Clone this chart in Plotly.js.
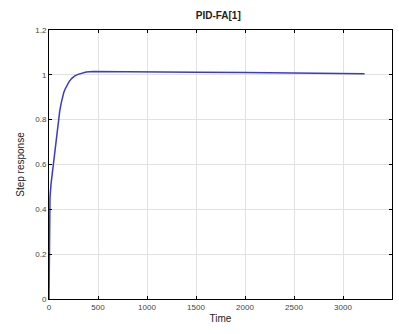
<!DOCTYPE html>
<html><head><meta charset="utf-8">
<script src="https://cdn.plot.ly/plotly-3.0.1.min.js"></script>
<style>html,body{margin:0;padding:0;background:#fff;}#chart{width:399px;height:334px;}</style>
</head><body><div id="chart"></div>
<script>
var timeValues = [0, 1, 2, 3, 5, 10, 20, 35, 48, 60, 70, 80, 92, 110, 125, 137, 150, 165, 180, 205, 230, 260, 296, 340, 380, 450, 500, 700, 1000, 1500, 2000, 2500, 3000, 3220];
var stepResponse = [0, 0.12, 0.22, 0.32, 0.4, 0.45, 0.51, 0.565, 0.61, 0.66, 0.7, 0.745, 0.79, 0.84, 0.875, 0.9, 0.92, 0.937, 0.952, 0.97, 0.983, 0.994, 1.002, 1.009, 1.013, 1.015, 1.015, 1.015, 1.014, 1.012, 1.01, 1.008, 1.006, 1.005];
var xTicks = [0, 500, 1000, 1500, 2000, 2500, 3000, 3500];
var yTicks = [0, 0.2, 0.4, 0.6, 0.8, 1, 1.2];
var yTickText = ['0', '0.2', '0.4', '0.6', '0.8', '1', '1.2'];

var axisCommon = {
  showline: true, linecolor: '#000', linewidth: 1, mirror: 'ticks',
  ticks: 'inside', ticklen: 3, tickcolor: '#000',
  showgrid: true, gridcolor: '#e2e2e2', gridwidth: 1,
  zeroline: false,
  tickfont: {family: 'Liberation Sans, Arial, sans-serif', size: 8, color: '#444'}
};

var trace = {
  x: timeValues, y: stepResponse, type: 'scatter', mode: 'lines',
  line: {color: '#3a3ad0', width: 1.5}
};

var layout = {
  width: 399, height: 334,
  margin: {l: 49, r: 7, t: 30, b: 35},
  paper_bgcolor: '#fff', plot_bgcolor: '#fff',
  showlegend: false,
  title: {text: '<b>PID-FA[1]</b>', x: 0.547, xanchor: 'center', y: 0.955, yanchor: 'middle',
          font: {family: 'Liberation Sans, Arial, sans-serif', size: 10, color: '#222'}},
  xaxis: Object.assign({}, axisCommon, {
    range: [0, 3500], tickvals: xTicks,
    title: {text: 'Time', standoff: 4, font: {family: 'Liberation Sans, Arial, sans-serif', size: 10, color: '#222'}}
  }),
  yaxis: Object.assign({}, axisCommon, {
    range: [0, 1.2], tickvals: yTicks, ticktext: yTickText,
    title: {text: 'Step response', standoff: 8, font: {family: 'Liberation Sans, Arial, sans-serif', size: 10, color: '#222'}}
  })
};

Plotly.newPlot('chart', [trace], layout, {displayModeBar: false, staticPlot: true});
</script></body></html>
